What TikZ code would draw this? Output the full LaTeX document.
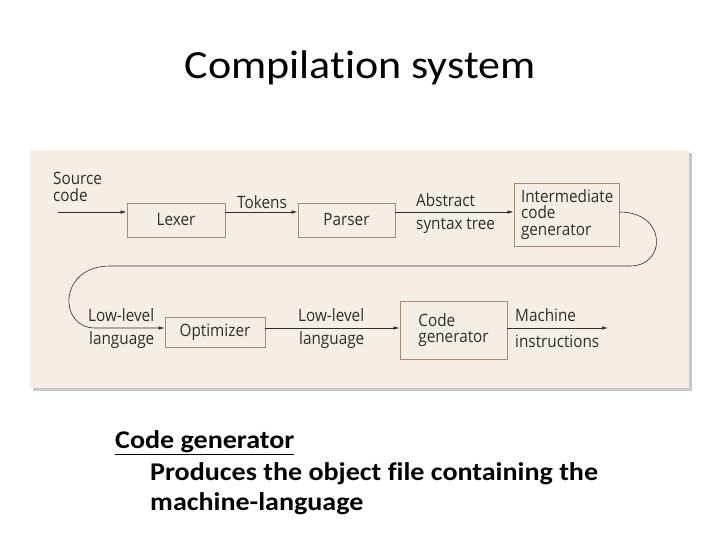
\documentclass[tikz,border=0pt]{standalone}
\usepackage{fontspec}
\setmainfont{Carlito}[FakeStretch=1.1, Ligatures=NoCommon]
\newfontfamily\figfont{Open Sans}[FakeStretch=0.9]
\usetikzlibrary{arrows.meta,positioning}
\definecolor{paper}{HTML}{F5EEE4}
\definecolor{boxline}{HTML}{A38C78}
\definecolor{ink}{HTML}{2E2E2E}
\newcommand{\figtext}{\figfont\fontsize{17}{16.5}\selectfont}

\begin{document}
\begin{tikzpicture}[x=1pt,y=-1pt,
    stage/.style={draw=boxline, line width=0.9pt, inner sep=0pt, text=ink, font=\figtext},
    lbl/.style={text=ink, font=\figtext, inner sep=0pt, anchor=west, align=left},
    flow/.style={draw=ink, line width=0.6pt, -{Latex[length=6pt,width=3.5pt]}}]
  % Definitions
  \pgfmathsetmacro{\ra}{212}
  \pgfmathsetmacro{\rb}{328}
  \useasboundingbox[fill=white] (0,0) rectangle (720,540);

  % title
  \node[font=\fontsize{40}{48}\selectfont, anchor=base] (title) at (360,79) {Compilation system};

  % panel with shadow
  \fill[black!22] (33,153) rectangle (692,391);
  \fill[paper] (30,150) rectangle (689,388);

  % stages
  \node[stage, minimum width=98pt, minimum height=34pt] (lexer) at (176,220) {Lexer};
  \node[stage, minimum width=97pt, minimum height=34pt] (parser) at (346.5,220) {Parser};
  \node[stage, minimum width=105pt, minimum height=63pt, text width=91pt, align=left] (inter) at (566.5,214.5)
    {Intermediate\\code\\generator};
  \node[stage, minimum width=100pt, minimum height=30pt] (opt) at (215,332) {Optimizer};
  \node[stage, minimum width=107pt, minimum height=58pt, align=left] (code) at (453.5,330) {Code\\generator};

  % labels
  \node[lbl] (src) at (53,187) {Source\\code};
  \node[lbl] (tok) at (237,202) {Tokens};
  \node[lbl] (abs) at (416,200) {Abstract};
  \node[lbl] (ast) at (416,226) {syntax tree};
  \node[lbl] (low1) at (88,315) {Low-level};
  \node[lbl] (lang1) at (89,340) {language};
  \node[lbl] (low2) at (298,315) {Low-level};
  \node[lbl] (lang2) at (299,340) {language};
  \node[lbl] (mach) at (515,315) {Machine};
  \node[lbl] (instr) at (515,341) {instructions};

  % flow
  \coordinate (in) at (58,\ra);
  \coordinate (out) at (608,\rb);
  \draw[flow] (in) -- (in -| lexer.west);
  \draw[flow] (lexer.east |- in) -- (parser.west |- in);
  \draw[flow] (parser.east |- in) -- (inter.west |- in);
  \draw[flow] (inter.east |- in) .. controls (667,\ra) and (667,266) .. (630,266) -- (110,266)
    .. controls (58,266) and (58,\rb) .. (95,\rb) -- (opt.west |- out);
  \draw[flow] (opt.east |- out) -- (code.west |- out);
  \draw[flow] (code.east |- out) -- (out);

  % notes
  \begin{scope}[font=\bfseries\fontsize{25.5}{30}\selectfont, inner sep=0pt, anchor=base west]
    \node (head) at (115,448) {\underline{Code generator}};
    \node (note1) at (150,480) {Produces the object file containing the};
    \node (note2) at (150,510) {machine-language};
  \end{scope}
\end{tikzpicture}
\end{document}
